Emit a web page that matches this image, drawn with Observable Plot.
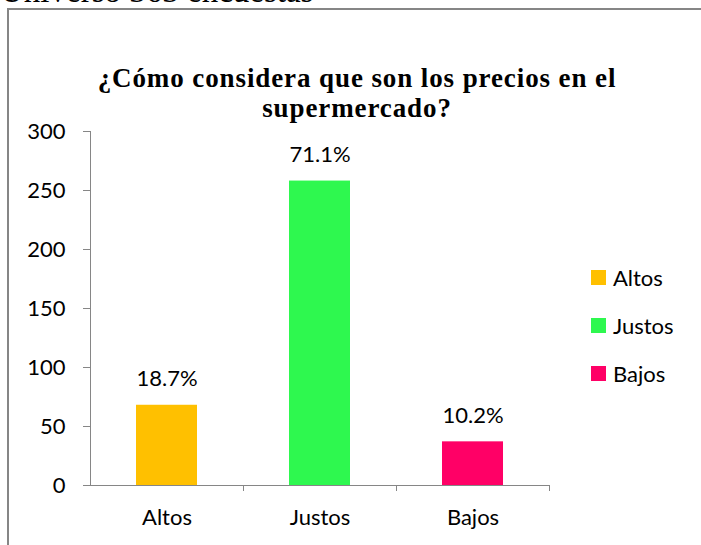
<!DOCTYPE html>
<html>
<head>
<meta charset="utf-8">
<script src="https://cdn.jsdelivr.net/npm/d3@7"></script>
<script src="https://cdn.jsdelivr.net/npm/@observablehq/plot@0.6"></script>
<style>
  html, body { margin: 0; padding: 0; background: #fff; }
  #wrap { position: relative; width: 701px; height: 545px; overflow: hidden; }
  #top { position: absolute; left: 0; top: -25px; font: 33px/33px "Liberation Serif", serif; color: #000; white-space: nowrap; }
  #box { position: absolute; left: 7px; top: 8px; width: 720px; height: 560px; border-left: 2px solid #868686; border-top: 2px solid #868686; }
  #title { position: absolute; left: 10px; width: 694px; top: 63px; text-align: center; font: bold 27px/30px "Liberation Serif", serif; letter-spacing: 0.9px; color: #000; }
  #chart { position: absolute; left: 0; top: 0; }
  #legend { position: absolute; left: 591px; top: 253px; font: 22px Lato, sans-serif; }
  .li { display: flex; align-items: center; height: 48px; }
  .sw { width: 15px; height: 15px; margin-right: 7px; }
</style>
</head>
<body>
<div id="wrap">
  <div id="top">Universo 363 encuestas</div>
  <div id="box"></div>
  <div id="chart"></div>
  <div id="title">¿Cómo considera que son los precios en el<br>supermercado?</div>
  <div id="legend"></div>
</div>
<script>
const categories = ["Altos", "Justos", "Bajos"];
const counts = [68, 258, 37];
const percents = ["18.7%", "71.1%", "10.2%"];
const colors = ["#FFC000", "#2EF84F", "#FF0066"];
const yTicks = [0, 50, 100, 150, 200, 250, 300];

const data = categories.map((c, i) => ({cat: c, n: counts[i], pct: percents[i]}));
const gray = "#868686";
const font = "Lato, sans-serif";

const chart = Plot.plot({
  width: 701,
  height: 545,
  marginLeft: 90,
  marginRight: 152,
  marginTop: 131,
  marginBottom: 60,
  style: {fontFamily: font, fontSize: "22px", color: "#000", background: "transparent", overflow: "visible"},
  x: {domain: categories, paddingInner: 0.6, paddingOuter: 0.3, axis: null},
  y: {domain: [0, 300], axis: null},
  color: {domain: categories, range: colors},
  marks: [
    Plot.barY(data, {x: "cat", y: "n", fill: "cat"}),
    Plot.frame({anchor: "left", stroke: gray, strokeOpacity: 1}),
    Plot.frame({anchor: "bottom", stroke: gray, strokeOpacity: 1}),
    Plot.axisY({ticks: yTicks, label: null, tickSize: 7, tickPadding: 18, stroke: gray, strokeOpacity: 1, fill: "#000", fontSize: 22, fontFamily: font}),
    Plot.ruleX(categories, {x: d => d, dx: 76.5, y1: 0, y2: 0, insetBottom: -6, stroke: gray}),
    Plot.axisX({label: null, tickSize: 0, tickPadding: 24, fill: "#000", fontSize: 22, fontFamily: font}),
    Plot.text(data, {x: "cat", y: "n", text: "pct", dy: -26, fontSize: 22, fontFamily: font, fill: "#000"})
  ]
});
document.getElementById("chart").appendChild(chart);

const legend = document.getElementById("legend");
categories.forEach((c, i) => {
  const row = document.createElement("div");
  row.className = "li";
  const sw = document.createElement("div");
  sw.className = "sw";
  sw.style.background = colors[i];
  const t = document.createElement("span");
  t.textContent = c;
  row.appendChild(sw);
  row.appendChild(t);
  legend.appendChild(row);
});
</script>
</body>
</html>
